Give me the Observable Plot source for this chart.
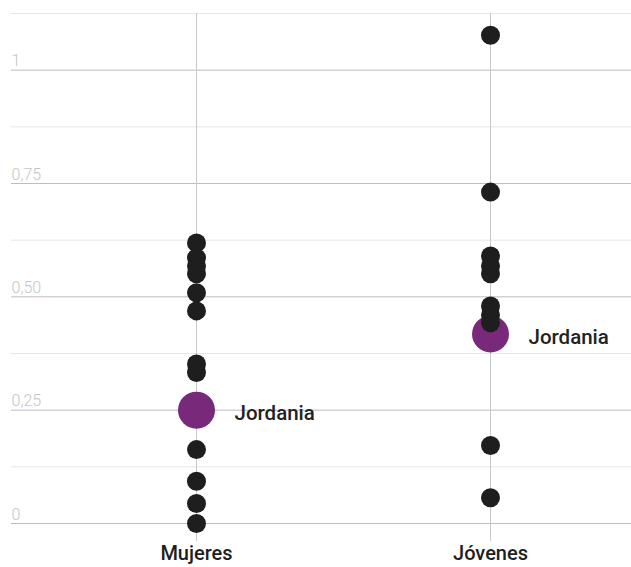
<!DOCTYPE html>
<html>
<head>
<meta charset="utf-8">
<script src="https://cdn.jsdelivr.net/npm/d3@7"></script>
<script src="https://cdn.jsdelivr.net/npm/@observablehq/plot@0.6"></script>
<style>
  body { margin: 0; background: #fff; }
  #chart svg { display: block; }
</style>
</head>
<body>
<div id="chart"></div>
<script>
const categories = ["Mujeres", "Jóvenes"];
const mujeres = [0.619, 0.586, 0.568, 0.551, 0.509, 0.469, 0.352, 0.333, 0.163, 0.093, 0.044, 0];
const jovenes = [1.077, 0.731, 0.590, 0.568, 0.551, 0.480, 0.460, 0.443, 0.172, 0.057];
const highlightName = "Jordania";
const highlightValues = [0.25, 0.418];
const majorTicks = [0, 0.25, 0.5, 0.75, 1];
const majorLabels = ["0", "0,25", "0,50", "0,75", "1"];
const minorTicks = [0.125, 0.375, 0.625, 0.875, 1.125];

const points = [
  ...mujeres.map(v => ({cat: categories[0], value: v})),
  ...jovenes.map(v => ({cat: categories[1], value: v}))
];
const highlight = categories.map((c, i) => ({cat: c, value: highlightValues[i], name: highlightName}));
const majors = majorTicks.map((v, i) => ({value: v, label: majorLabels[i]}));

const chart = Plot.plot({
  width: 631,
  height: 567,
  marginLeft: 11,
  marginRight: 0,
  marginTop: 13,
  marginBottom: 44,
  style: {fontFamily: "Roboto, sans-serif", background: "#fff"},
  x: {type: "point", domain: categories, range: [196, 490], padding: 0, axis: null},
  y: {domain: [0, 1.125], axis: null},
  marks: [
    Plot.ruleY(minorTicks, {stroke: "#e6e6e6", strokeWidth: 1}),
    Plot.ruleY(majorTicks, {stroke: "#bdbdbd", strokeWidth: 1}),
    Plot.text(majors, {y: "value", text: "label", frameAnchor: "left", textAnchor: "start", lineAnchor: "bottom", dy: -4, fill: "#c4c4c4", fontSize: 16, fontWeight: 300}),
    Plot.ruleX(categories, {x: d => d, y1: -0.04, y2: 1.125, stroke: "#c8c8c8", strokeWidth: 1}),
    Plot.dot(highlight, {x: "cat", y: "value", r: 18.5, fill: "#78297a"}),
    Plot.dot(points, {x: "cat", y: "value", r: 9.5, fill: "#1e1e1e"}),
    Plot.text(highlight, {x: "cat", y: "value", text: "name", dx: 38, dy: 3, textAnchor: "start", fill: "#222", fontSize: 20.5, fontWeight: 500}),
    Plot.axisX({tickSize: 0, tickPadding: 22, fontSize: 20, fontWeight: 500, color: "#1e1e1e", label: null})
  ]
});
document.getElementById("chart").append(chart);
</script>
</body>
</html>
